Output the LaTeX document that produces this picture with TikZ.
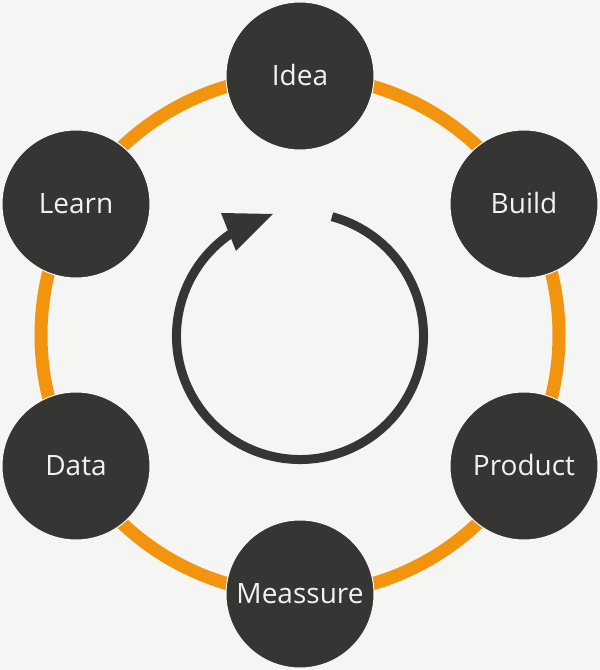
\documentclass[tikz,border=0pt]{standalone}
\usepackage{fontspec}
\setmainfont{Open Sans}
\usetikzlibrary{calc}
\definecolor{paper}{RGB}{245,245,243}
\definecolor{disc}{RGB}{53,53,51}
\definecolor{ring}{RGB}{243,148,14}
\definecolor{label}{RGB}{242,242,240}
\tikzset{
  stage/.style={circle, fill=disc, draw=paper!60!white, line width=0.5pt,
    minimum size=74pt, inner sep=0pt, text=label,
    font=\fontsize{14pt}{16pt}\selectfont, text height=10pt, text depth=0pt},
  loopline/.style={draw=disc, line width=4.5pt},
}
\begin{document}
\begin{tikzpicture}[x=0.5pt,y=0.5pt]
  % canvas
  \fill[paper] (0,0) rectangle (600,670);
  \useasboundingbox (0,0) rectangle (600,670);

  % orange ring joining the stages
  \coordinate (hub) at (300,335);
  \draw[ring, line width=6.5pt] (hub) circle[radius=129.5pt];

  % stages of the cycle
  \node[stage] (idea)    at (300,594) {Idea};
  \node[stage] (build)   at (524,466) {Build};
  \node[stage] (product) at (524,204) {Product};
  \node[stage] (measure) at (300,76)  {Meassure};
  \node[stage] (data)    at (76,204)  {Data};
  \node[stage] (learn)   at (76,466)  {Learn};

  % central clockwise loop arrow
  \coordinate (loopc) at (300,334);
  \draw[loopline] ($(loopc)+(75:61.75pt)$) arc[start angle=75, end angle=-236, radius=61.75pt];
  \fill[disc] (273,456) -- (221,457) -- (236,419) -- cycle;
\end{tikzpicture}
\end{document}
